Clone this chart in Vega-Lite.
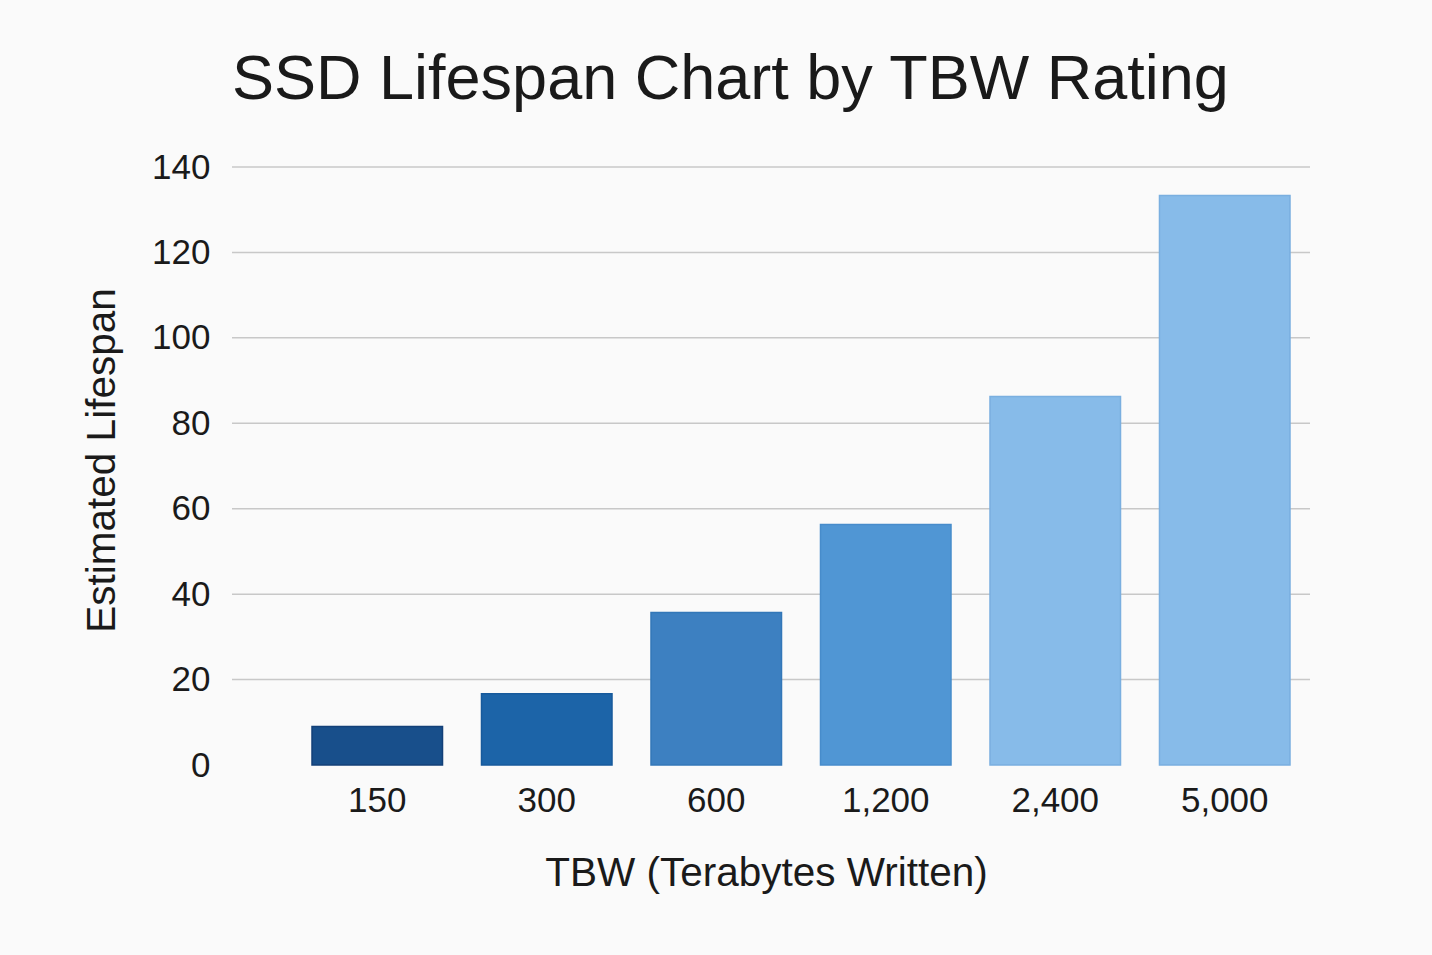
{
  "$schema": "https://vega.github.io/schema/vega-lite/v6.json",
  "description": "SSD lifespan by TBW rating",
  "autosize": "none",
  "width": 1078,
  "height": 598,
  "padding": {"left": 232, "top": 167, "right": 122, "bottom": 190},
  "background": "#fafafa",
  "title": {
    "text": "SSD Lifespan Chart by TBW Rating",
    "anchor": "start",
    "frame": "group",
    "baseline": "alphabetic",
    "offset": -12,
    "font": "Liberation Sans",
    "fontSize": 63,
    "fontWeight": "normal",
    "color": "#1a1a1a"
  },
  "config": {
    "view": {"stroke": null},
    "font": "Liberation Sans"
  },
  "layer": [
    {
      "data": {
        "values": [
          {"Grid": 20}, {"Grid": 40}, {"Grid": 60}, {"Grid": 80},
          {"Grid": 100}, {"Grid": 120}, {"Grid": 140}
        ]
      },
      "mark": {"type": "rule", "color": "#c8c8c8", "strokeWidth": 1.5},
      "encoding": {
        "y": {
          "field": "Grid",
          "type": "quantitative",
          "scale": {"domain": [0, 140], "nice": false},
          "axis": {
            "values": [0, 20, 40, 60, 80, 100, 120, 140],
            "title": "Estimated Lifespan",
            "titleFontSize": 40.5,
            "titleFontWeight": "normal",
            "titleColor": "#1a1a1a",
            "titlePadding": 28,
            "titleY": 293,
            "labelFontSize": 35,
            "labelColor": "#1a1a1a",
            "labelPadding": 22,
            "ticks": false,
            "domain": false,
            "grid": false
          }
        }
      }
    },
    {
      "data": {
        "values": [
          {"TBW": "150", "Lifespan": 9},
          {"TBW": "300", "Lifespan": 16.7},
          {"TBW": "600", "Lifespan": 35.7},
          {"TBW": "1,200", "Lifespan": 56.3},
          {"TBW": "2,400", "Lifespan": 86.3},
          {"TBW": "5,000", "Lifespan": 133.3}
        ]
      },
      "mark": {"type": "bar", "strokeWidth": 1.5},
      "encoding": {
        "x": {
          "field": "TBW",
          "type": "nominal",
          "sort": null,
          "scale": {"range": [80, 1058], "paddingInner": 0.23, "paddingOuter": 0},
          "axis": {
            "title": "TBW (Terabytes Written)",
            "titleFontSize": 40.5,
            "titleFontWeight": "normal",
            "titleColor": "#1a1a1a",
            "titlePadding": 35,
            "titleX": 534,
            "labelFontSize": 35,
            "labelColor": "#1a1a1a",
            "labelPadding": 18,
            "labelAngle": 0,
            "ticks": false,
            "domain": false,
            "grid": false
          }
        },
        "y": {"field": "Lifespan", "type": "quantitative"},
        "color": {
          "field": "TBW",
          "type": "nominal",
          "sort": null,
          "legend": null,
          "scale": {
            "domain": ["150", "300", "600", "1,200", "2,400", "5,000"],
            "range": ["#184f8b", "#1c64a8", "#3d80c1", "#5096d4", "#87bbe9", "#87bbe9"]
          }
        },
        "stroke": {
          "field": "TBW",
          "type": "nominal",
          "legend": null,
          "scale": {
            "domain": ["150", "300", "600", "1,200", "2,400", "5,000"],
            "range": ["#134078", "#175a9c", "#3377b8", "#478ccb", "#7aafe0", "#7aafe0"]
          }
        }
      }
    },
    {
      "mark": {"type": "rule", "color": "#1a1a1a", "strokeWidth": 2.5},
      "encoding": {"y": {"datum": 0}}
    }
  ]
}
